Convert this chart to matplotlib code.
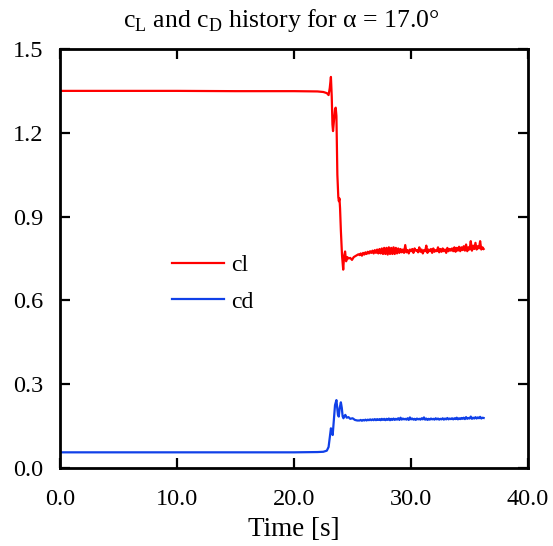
import numpy as np
import matplotlib
matplotlib.use("Agg")
import matplotlib.pyplot as plt

plt.rcParams['font.family'] = ['Liberation Serif', 'DejaVu Serif']
plt.rcParams['mathtext.fontset'] = 'custom'
plt.rcParams['mathtext.rm'] = 'Liberation Serif'

# ---- data ----
cl_t_head = [0, 5, 10, 15, 20, 22.0, 22.5, 22.8, 22.95, 23.05, 23.15, 23.22, 23.28, 23.33,
             23.4, 23.5, 23.56, 23.62, 23.7, 23.78, 23.83, 23.88, 23.93, 24.0, 24.1, 24.2,
             24.28, 24.36, 24.45, 24.55, 24.65, 24.8, 24.95, 25.1, 25.3, 25.5]
cl_v_head = [1.350, 1.350, 1.350, 1.349, 1.349, 1.348, 1.346, 1.342, 1.335, 1.36, 1.40, 1.33,
             1.23, 1.206, 1.24, 1.285, 1.29, 1.26, 1.05, 0.97, 0.955, 0.965, 0.93, 0.85, 0.76,
             0.71, 0.76, 0.775, 0.74, 0.755, 0.75, 0.752, 0.745, 0.755, 0.76, 0.765]
cl_v_tail = [0.762, 0.768, 0.760, 0.770, 0.764, 0.772, 0.766, 0.774, 0.768, 0.776,
             0.770, 0.778, 0.768, 0.780, 0.770, 0.782, 0.768, 0.784, 0.768, 0.786,
             0.766, 0.788, 0.766, 0.788, 0.764, 0.790, 0.766, 0.788, 0.766, 0.790,
             0.766, 0.788, 0.768, 0.786, 0.770, 0.784, 0.772, 0.782, 0.770, 0.798,
             0.772, 0.780, 0.768, 0.782, 0.776, 0.784, 0.770, 0.786, 0.778, 0.780,
             0.772, 0.790, 0.774, 0.782, 0.768, 0.780, 0.776, 0.796, 0.770, 0.782,
             0.776, 0.784, 0.770, 0.786, 0.774, 0.780, 0.776, 0.790, 0.772, 0.784,
             0.774, 0.786, 0.776, 0.782, 0.770, 0.788, 0.776, 0.784, 0.778, 0.786,
             0.776, 0.790, 0.774, 0.788, 0.778, 0.792, 0.776, 0.790, 0.780, 0.794,
             0.778, 0.800, 0.776, 0.790, 0.782, 0.812, 0.778, 0.796, 0.784, 0.806,
             0.782, 0.794, 0.786, 0.812, 0.782, 0.790, 0.784]

cd_t_head = [0, 5, 10, 15, 20, 22.0, 22.5, 22.8, 22.95, 23.05, 23.15, 23.22, 23.3, 23.4,
             23.5, 23.62, 23.68, 23.75, 23.82, 23.9, 24.0, 24.08, 24.15, 24.22, 24.3, 24.38,
             24.5, 24.65, 24.8, 25.0, 25.2, 25.4]
cd_v_head = [0.056, 0.056, 0.056, 0.056, 0.056, 0.057, 0.058, 0.062, 0.075, 0.11, 0.142,
             0.128, 0.118, 0.17, 0.225, 0.243, 0.22, 0.19, 0.184, 0.215, 0.235, 0.215, 0.185,
             0.178, 0.185, 0.19, 0.18, 0.182, 0.176, 0.178, 0.172, 0.170]
cd_v_tail = [0.170, 0.172, 0.169, 0.172, 0.170, 0.173, 0.170, 0.173, 0.171, 0.174,
             0.171, 0.174, 0.171, 0.175, 0.171, 0.175, 0.172, 0.175, 0.171, 0.176,
             0.172, 0.176, 0.171, 0.176, 0.172, 0.177, 0.171, 0.176, 0.172, 0.177,
             0.172, 0.176, 0.173, 0.178, 0.172, 0.180, 0.173, 0.177, 0.174, 0.176,
             0.173, 0.178, 0.172, 0.181, 0.174, 0.177, 0.173, 0.176, 0.172, 0.177,
             0.174, 0.176, 0.173, 0.178, 0.174, 0.181, 0.173, 0.177, 0.172, 0.176,
             0.173, 0.177, 0.174, 0.176, 0.173, 0.178, 0.174, 0.177, 0.173, 0.176,
             0.174, 0.178, 0.173, 0.177, 0.174, 0.179, 0.174, 0.177, 0.175, 0.178,
             0.174, 0.178, 0.175, 0.180, 0.174, 0.178, 0.175, 0.179, 0.176, 0.180,
             0.175, 0.182, 0.176, 0.179, 0.177, 0.184, 0.176, 0.180, 0.177, 0.182,
             0.177, 0.181, 0.178, 0.183, 0.177, 0.180, 0.179]

tail_t = list(np.round(np.arange(25.6, 36.25, 0.1), 2))

x_ticks = [0, 10, 20, 30, 40]
x_tick_labels = ["0.0", "10.0", "20.0", "30.0", "40.0"]
y_ticks = [0.0, 0.3, 0.6, 0.9, 1.2, 1.5]
y_tick_labels = ["0.0", "0.3", "0.6", "0.9", "1.2", "1.5"]

cl_t = cl_t_head + tail_t
cl_v = cl_v_head + cl_v_tail
cd_t = cd_t_head + tail_t
cd_v = cd_v_head + cd_v_tail

fig = plt.figure(figsize=(5.53, 5.46), dpi=100)
ax = fig.add_axes([0.1085, 0.1429, 0.8465, 0.7674])

ax.plot(cl_t, cl_v, color='#ff0000', lw=1.6, label='cl')
ax.plot(cd_t, cd_v, color='#1040e8', lw=1.6, label='cd')

ax.set_xlim(0, 40)
ax.set_ylim(0, 1.5)
ax.set_xticks(x_ticks)
ax.set_xticklabels(x_tick_labels)
ax.set_yticks(y_ticks)
ax.set_yticklabels(y_tick_labels)
ax.tick_params(direction='in', length=7, width=1.6, labelsize=17.5,
               top=True, right=True)
ax.tick_params(axis='x', pad=15)
ax.tick_params(axis='y', pad=12)
for s in ax.spines.values():
    s.set_linewidth(2)

ax.set_xlabel('Time [s]', fontsize=19.5, labelpad=5)
ax.set_title(r'c$_\mathrm{L}$ and c$_\mathrm{D}$ history for α = 17.0°', fontsize=18.5,
             pad=16, x=0.474)

leg = ax.legend(loc='upper left', bbox_to_anchor=(0.239, 0.51), frameon=False,
                fontsize=17, handlelength=2.2, labelspacing=0.65, handletextpad=0.3,
                borderpad=0, borderaxespad=0)

fig.savefig('out.png', dpi=100)
